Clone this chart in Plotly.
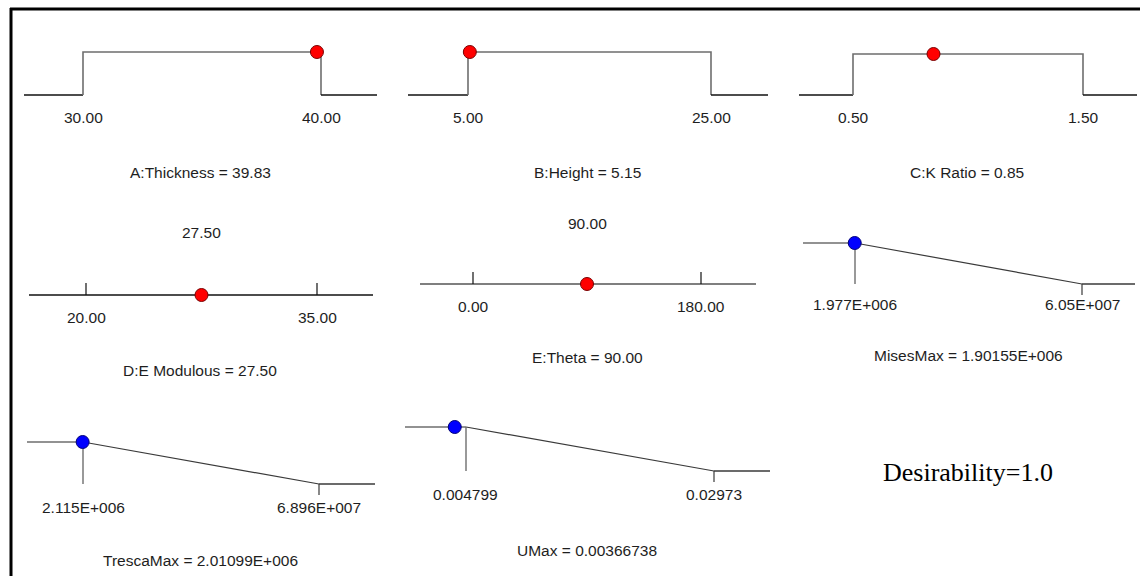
import plotly.graph_objects as go

W, H = 1140, 576

# ---------------- data ----------------
factor_names = ["A:Thickness", "B:Height", "C:K Ratio", "D:E Modulous", "E:Theta"]
factor_low = [30.0, 5.0, 0.5, 20.0, 0.0]
factor_high = [40.0, 25.0, 1.5, 35.0, 180.0]
factor_value = [39.83, 5.15, 0.85, 27.50, 90.00]
factor_low_text = ["30.00", "5.00", "0.50", "20.00", "0.00"]
factor_high_text = ["40.00", "25.00", "1.50", "35.00", "180.00"]
factor_value_text = ["39.83", "5.15", "0.85", "27.50", "90.00"]
factor_goal = ["range", "range", "range", "fixed", "fixed"]

response_names = ["MisesMax", "TrescaMax", "UMax"]
response_low = [1.977e6, 2.115e6, 0.004799]
response_high = [6.05e7, 6.896e7, 0.02973]
response_value = [1.90155e6, 2.01099e6, 0.00366738]
response_low_text = ["1.977E+006", "2.115E+006", "0.004799"]
response_high_text = ["6.05E+007", "6.896E+007", "0.02973"]
response_value_text = ["1.90155E+006", "2.01099E+006", "0.00366738"]

desirability_text = "Desirability=1.0"

# ---------------- layout (pixel positions of each panel) ----------------
factor_px = [
    dict(lo=83, hi=321, l=24, r=377, y0=95, y1=52, lab=117, tit=172, tx=200),
    dict(lo=468, hi=711, l=408, r=768, y0=95, y1=52, lab=117, tit=172, tx=587),
    dict(lo=853, hi=1083, l=799, r=1137, y0=95, y1=54, lab=117, tit=172, tx=967),
    dict(lo=86, hi=317, l=29, r=373, y0=295, y1=255, lab=317, tit=370, tx=200, top=232),
    dict(lo=473, hi=701, l=420, r=756, y0=284, y1=244, lab=306, tit=357, tx=587, top=223),
]
response_px = [
    dict(lo=855, hi=1082, l=803, r=1135, y0=284, y1=243, lab=304, tit=355, tx=968),
    dict(lo=83, hi=319, l=27, r=375, y0=484, y1=442, lab=507, tit=560, tx=200),
    dict(lo=466, hi=714, l=405, r=770, y0=471, y1=427, lab=494, tit=550, tx=587),
]

TXT = dict(family="Liberation Sans, Arial, sans-serif", size=15.5, color="#1e1e1e")
GRAY = "#6e6e6e"
DARK = "#3a3a3a"
BLACK = "#111111"

fig = go.Figure()
layout_axes = {}
annotations = []
axis_n = [0]


def make_axes(low, high, px):
    axis_n[0] += 1
    n = axis_n[0]
    scale = (px["hi"] - px["lo"]) / (high - low)
    pad_l = min(8, px["l"])
    pad_r = min(8, W - px["r"])
    xr = [low - (px["lo"] - px["l"] + pad_l) / scale, high + (px["r"] - px["hi"] + pad_r) / scale]
    xdom = [(px["l"] - pad_l) / W, (px["r"] + pad_r) / W]
    ysc = (px["y0"] - px["y1"])
    yr = [0 - 25 / ysc, 1 + 15 / ysc]
    ydom = [1 - (px["y0"] + 25) / H, 1 - (px["y1"] - 15) / H]
    sfx = "" if n == 1 else str(n)
    layout_axes["xaxis" + sfx] = dict(domain=xdom, range=xr, visible=False,
                                      anchor="y" + sfx, fixedrange=True)
    layout_axes["yaxis" + sfx] = dict(domain=ydom, range=yr, visible=False,
                                      anchor="x" + sfx, fixedrange=True)
    ext_l = low - (px["lo"] - px["l"]) / scale
    ext_r = high + (px["r"] - px["hi"]) / scale
    return "x" + sfx, "y" + sfx, ext_l, ext_r, ysc


def line(xr, yr, xs, ys, color, width=1.4):
    fig.add_trace(go.Scatter(x=xs, y=ys, mode="lines", xaxis=xr, yaxis=yr,
                             line=dict(color=color, width=width),
                             hoverinfo="skip", showlegend=False, cliponaxis=False))


def dot(xr, yr, x, y, fill, edge):
    fig.add_trace(go.Scatter(x=[x], y=[y], mode="markers", xaxis=xr, yaxis=yr,
                             marker=dict(size=13, color=fill, line=dict(color=edge, width=1)),
                             hoverinfo="skip", showlegend=False, cliponaxis=False))


def text(x, y, s, xref="paper", font=TXT):
    annotations.append(dict(x=x if xref != "paper" else x / W, y=1 - y / H, xref=xref,
                            yref="paper", text=s, showarrow=False, font=font,
                            xanchor="center", yanchor="middle"))


# factors
for i in range(len(factor_names)):
    lo, hi, v = factor_low[i], factor_high[i], factor_value[i]
    px = factor_px[i]
    xr, yr, el, er, ysc = make_axes(lo, hi, px)
    if factor_goal[i] == "range":
        line(xr, yr, [el, lo], [0, 0], BLACK)
        line(xr, yr, [lo, lo, hi, hi], [0, 1, 1, 0], GRAY, 1.6)
        line(xr, yr, [hi, er], [0, 0], BLACK)
        dot(xr, yr, v, 1, "#ff0000", "#7a0000")
    else:
        t = 12 / ysc
        line(xr, yr, [el, er], [0, 0], BLACK if i == 3 else "#555555")
        line(xr, yr, [lo, lo], [0, t], BLACK, 1.2)
        line(xr, yr, [hi, hi], [0, t], BLACK, 1.2)
        dot(xr, yr, v, 0, "#ff0000", "#7a0000")
        text(v, px["top"], factor_value_text[i], xref=xr)
    text(lo, px["lab"], factor_low_text[i], xref=xr)
    text(hi, px["lab"], factor_high_text[i], xref=xr)
    text(px["tx"], px["tit"], f"{factor_names[i]} = {factor_value_text[i]}")

# responses (minimize)
for i in range(len(response_names)):
    lo, hi, v = response_low[i], response_high[i], response_value[i]
    px = response_px[i]
    xr, yr, el, er, ysc = make_axes(lo, hi, px)
    d = 1.0 if v <= lo else (0.0 if v >= hi else (hi - v) / (hi - lo))
    line(xr, yr, [el, lo], [1, 1], GRAY)
    line(xr, yr, [lo, hi], [1, 0], DARK, 1.2)
    line(xr, yr, [lo, lo], [1, 0], GRAY, 1.4)
    line(xr, yr, [hi, er], [0, 0], DARK, 1.4)
    line(xr, yr, [hi, hi], [0, -11 / ysc], DARK, 1.2)
    dot(xr, yr, v, d, "#0000ff", "#00007a")
    text(lo, px["lab"], response_low_text[i], xref=xr)
    text(hi, px["lab"], response_high_text[i], xref=xr)
    text(px["tx"], px["tit"], f"{response_names[i]} = {response_value_text[i]}")

text(968, 472, desirability_text,
     font=dict(family="Liberation Serif, Times New Roman, serif", size=26, color="#000000"))

shapes = [
    dict(type="line", xref="paper", yref="paper", x0=10 / W, x1=1, y0=1 - 9 / H, y1=1 - 9 / H,
         line=dict(color="#000000", width=3)),
    dict(type="line", xref="paper", yref="paper", x0=11 / W, x1=11 / W, y0=0, y1=1 - 8 / H,
         line=dict(color="#000000", width=3)),
]

fig.update_layout(width=W, height=H, margin=dict(l=0, r=0, t=0, b=0),
                  paper_bgcolor="white", plot_bgcolor="white",
                  showlegend=False, annotations=annotations, shapes=shapes,
                  **layout_axes)

fig.write_html("out.html", config={"displayModeBar": False})
